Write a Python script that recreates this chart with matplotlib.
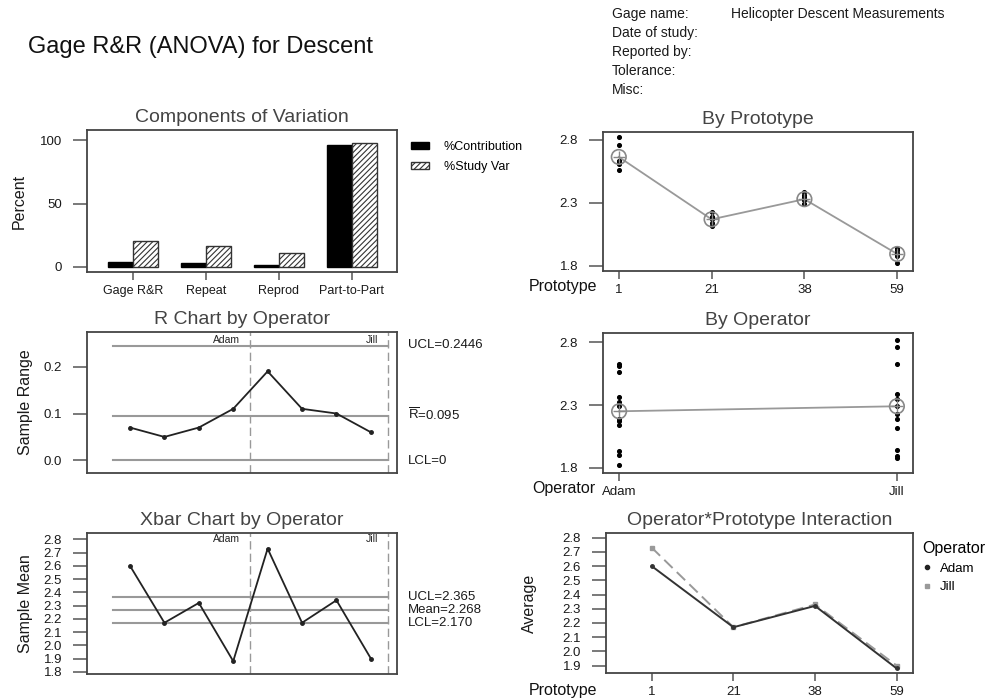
import matplotlib
matplotlib.use("Agg")
import matplotlib.pyplot as plt
from matplotlib.lines import Line2D
import numpy as np

plt.rcParams["font.family"] = ["Liberation Sans", "DejaVu Sans"]
plt.rcParams["mathtext.fontset"] = "custom"
plt.rcParams["mathtext.rm"] = "Liberation Sans"
plt.rcParams["hatch.color"] = "#555555"
plt.rcParams["hatch.linewidth"] = 0.8

# components of variation
components = ["Gage R&R", "Repeat", "Reprod", "Part-to-Part"]
pct_contribution = [4.2, 2.8, 1.2, 95.8]
pct_study_var = [20.4, 16.8, 10.9, 97.9]

# prototypes / operators
prototypes = ["1", "21", "38", "59"]
operators = ["Adam", "Jill"]

# individual measurements (3 trials each)
adam_meas = [[2.63, 2.56, 2.61], [2.14, 2.17, 2.19], [2.29, 2.32, 2.36], [1.82, 1.90, 1.93]]
jill_meas = [[2.63, 2.76, 2.82], [2.12, 2.19, 2.23], [2.29, 2.35, 2.39], [1.88, 1.89, 1.94]]

proto_means = [2.665, 2.17, 2.33, 1.895]
oper_means = [2.25, 2.29]

# control chart values (Adam 1..4, Jill 1..4)
sample_range = [0.07, 0.05, 0.07, 0.11, 0.19, 0.11, 0.10, 0.06]
r_ucl, r_bar, r_lcl = 0.2446, 0.095, 0.0
sample_mean = [2.60, 2.17, 2.32, 1.88, 2.73, 2.17, 2.34, 1.90]
x_ucl, x_mean, x_lcl = 2.365, 2.268, 2.170

adam_avg = [2.60, 2.17, 2.32, 1.88]
jill_avg = [2.73, 2.17, 2.33, 1.90]

W, H = 996, 699
fig = plt.figure(figsize=(W / 100, H / 100), dpi=100)

TXT = "#1a1a1a"
GRAY = "#999999"


def add_ax(l, t, r, b):
    ax = fig.add_axes([l / W, 1 - b / H, (r - l) / W, (b - t) / H])
    for s in ax.spines.values():
        s.set_color("#444444")
        s.set_linewidth(1.3)
    ax.tick_params(axis="y", length=10, width=1.1, color="#555555", labelsize=9.5, labelcolor=TXT, pad=8)
    ax.tick_params(axis="x", length=6, width=1.1, color="#555555", labelsize=9.5, labelcolor=TXT)
    return ax


def ftext(x, y, s, **kw):
    fig.text(x / W, 1 - y / H, s, **kw)


# header
ftext(28, 47, "Gage R&R (ANOVA) for Descent", fontsize=17, va="center", color="#111111")
info = ["Gage name:", "Date of study:", "Reported by:", "Tolerance:", "Misc:"]
for i, s in enumerate(info):
    ftext(612, 14 + 19 * i, s, fontsize=10, va="center", color="#1a1a1a")
ftext(731, 14, "Helicopter Descent Measurements", fontsize=10, va="center", color="#1a1a1a")

# Components of Variation
ax = add_ax(87, 130, 397, 272)
x = np.arange(len(components))
bw = 0.34
ax.bar(x - bw / 2, pct_contribution, bw, color="black", edgecolor="black", label="%Contribution")
ax.bar(x + bw / 2, pct_study_var, bw, color="white", edgecolor="#333333", hatch="//////",
       linewidth=1, label="%Study Var")
ax.set_xlim(-0.63, 3.62)
ax.set_ylim(-4, 108)
ax.set_yticks([0, 50, 100])
ax.set_xticks(x)
ax.set_xticklabels(components, fontsize=9)
ax.set_title("Components of Variation", fontsize=14, color="#444444", pad=6)
ax.set_ylabel("Percent", fontsize=11.5, color=TXT)
ax.yaxis.set_label_coords(-0.194, 0.5)
ax.legend(loc="upper left", bbox_to_anchor=(1.01, 1.0), frameon=False, fontsize=9,
          handlelength=1.4, handleheight=0.5, handletextpad=1.2, labelspacing=0.6)

# By Prototype
ax = add_ax(603, 132, 913, 271)
xp = np.arange(len(prototypes))
for i in range(len(prototypes)):
    vals = adam_meas[i] + jill_meas[i]
    ax.scatter([i] * len(vals), vals, s=7, color="black", zorder=3)
ax.plot(xp, proto_means, color=GRAY, lw=1.3, zorder=2)
ax.scatter(xp, proto_means, s=110, facecolors="none", edgecolors="#888888", lw=1.2, zorder=4)
ax.scatter(xp, proto_means, s=70, marker="+", color="#888888", lw=1.0, zorder=4)
ax.set_xlim(-0.17, 3.17)
ax.set_ylim(1.76, 2.863)
ax.set_yticks([1.8, 2.3, 2.8])
ax.set_xticks(xp)
ax.set_xticklabels(prototypes)
ax.set_title("By Prototype", fontsize=14, color="#444444", pad=6)
ftext(597, 287, "Prototype", fontsize=11.5, ha="right", va="center", color="#111111")

# R Chart by Operator
ax = add_ax(87, 332, 397, 473)
xs = np.arange(1, len(sample_range) + 1)
for v in [r_ucl, r_bar, r_lcl]:
    ax.plot([0.5, 8.5], [v, v], color=GRAY, lw=1.5, zorder=1)
for b in [4.5, 8.5]:
    ax.axvline(b, color=GRAY, lw=1.0, ls=(0, (6, 3)), zorder=1)
ax.plot(xs, sample_range, color="#222222", lw=1.3, marker="o", ms=2.5, zorder=3)
ax.set_xlim(-0.25, 8.76)
ax.set_ylim(-0.027, 0.274)
ax.set_yticks([0.0, 0.1, 0.2])
ax.set_yticklabels(["0.0", "0.1", "0.2"])
ax.set_xticks([])
ax.set_title("R Chart by Operator", fontsize=14, color="#444444", pad=6)
ax.set_ylabel("Sample Range", fontsize=11.5, color=TXT)
ax.yaxis.set_label_coords(-0.174, 0.5)
ax.text(4.2, 0.268, "Adam", fontsize=7.5, ha="right", va="top", color="#222222")
ax.text(8.2, 0.268, "Jill", fontsize=7.5, ha="right", va="top", color="#222222")
ftext(408, 345.5, "UCL=0.2446", fontsize=9.5, va="center", color="#1a1a1a")
ftext(408, 415, r"$\overline{\mathrm{R}}$=0.095", fontsize=9.5, va="center", color="#1a1a1a")
ftext(408, 461, "LCL=0", fontsize=9.5, va="center", color="#1a1a1a")

# By Operator
ax = add_ax(603, 333, 913, 473)
xo = np.arange(len(operators))
adam_all = [v for row in adam_meas for v in row]
jill_all = [v for row in jill_meas for v in row]
ax.scatter([0] * len(adam_all), adam_all, s=7, color="black", zorder=3)
ax.scatter([1] * len(jill_all), jill_all, s=7, color="black", zorder=3)
ax.plot(xo, oper_means, color=GRAY, lw=1.3, zorder=2)
ax.scatter(xo, oper_means, s=110, facecolors="none", edgecolors="#888888", lw=1.2, zorder=4)
ax.scatter(xo, oper_means, s=70, marker="+", color="#888888", lw=1.0, zorder=4)
ax.set_xlim(-0.058, 1.058)
ax.set_ylim(1.758, 2.874)
ax.set_yticks([1.8, 2.3, 2.8])
ax.set_xticks(xo)
ax.set_xticklabels(operators)
ax.set_title("By Operator", fontsize=14, color="#444444", pad=6)
ftext(595, 489, "Operator", fontsize=11.5, ha="right", va="center", color="#111111")

# Xbar Chart by Operator
ax = add_ax(87, 533, 397, 674)
for v in [x_ucl, x_mean, x_lcl]:
    ax.plot([0.5, 8.5], [v, v], color=GRAY, lw=1.5, zorder=1)
for b in [4.5, 8.5]:
    ax.axvline(b, color=GRAY, lw=1.0, ls=(0, (6, 3)), zorder=1)
ax.plot(xs, sample_mean, color="#222222", lw=1.3, marker="o", ms=2.5, zorder=3)
ax.set_xlim(-0.25, 8.76)
ax.set_ylim(1.783, 2.848)
yt = np.round(np.arange(1.8, 2.81, 0.1), 1)
ax.set_yticks(yt)
ax.set_yticklabels([f"{v:.1f}" for v in yt], fontsize=9.5)
ax.set_xticks([])
ax.set_title("Xbar Chart by Operator", fontsize=14, color="#444444", pad=6)
ax.set_ylabel("Sample Mean", fontsize=11.5, color=TXT)
ax.yaxis.set_label_coords(-0.174, 0.5)
ax.text(4.2, 2.84, "Adam", fontsize=7.5, ha="right", va="top", color="#222222")
ax.text(8.2, 2.84, "Jill", fontsize=7.5, ha="right", va="top", color="#222222")
ftext(408, 597, "UCL=2.365", fontsize=9.5, va="center", color="#1a1a1a")
ftext(408, 610, "Mean=2.268", fontsize=9.5, va="center", color="#1a1a1a")
ftext(408, 623, "LCL=2.170", fontsize=9.5, va="center", color="#1a1a1a")

# Operator*Prototype Interaction
ax = add_ax(606, 533, 913, 673)
ax.plot(xp, jill_avg, color=GRAY, lw=1.4, ls=(0, (6, 3)), marker="s", ms=2.5, zorder=2)
ax.plot(xp, adam_avg, color="#333333", lw=1.4, marker="o", ms=2.5, zorder=3)
ax.set_xlim(-0.56, 3.2)
ax.set_ylim(1.848, 2.833)
yt = np.round(np.arange(1.9, 2.81, 0.1), 1)
ax.set_yticks(yt)
ax.set_yticklabels([f"{v:.1f}" for v in yt], fontsize=9.5)
ax.set_xticks(xp)
ax.set_xticklabels(prototypes)
ax.set_title("Operator*Prototype Interaction", fontsize=14, color="#444444", pad=6)
ax.set_ylabel("Average", fontsize=11.5, color=TXT)
ax.yaxis.set_label_coords(-0.225, 0.5)
ftext(597, 690, "Prototype", fontsize=11.5, ha="right", va="center", color="#111111")
handles = [Line2D([], [], color="#222222", marker="o", ms=3, ls="none"),
           Line2D([], [], color=GRAY, marker="s", ms=3, ls="none")]
leg = ax.legend(handles, operators, title="Operator", loc="upper left",
                bbox_to_anchor=(0.99, 1.03), frameon=False, fontsize=9.5,
                title_fontsize=11.5, handlelength=0.8, handletextpad=0.6, labelspacing=0.5)
leg._legend_box.align = "left"

fig.savefig("out.png", dpi=100)
